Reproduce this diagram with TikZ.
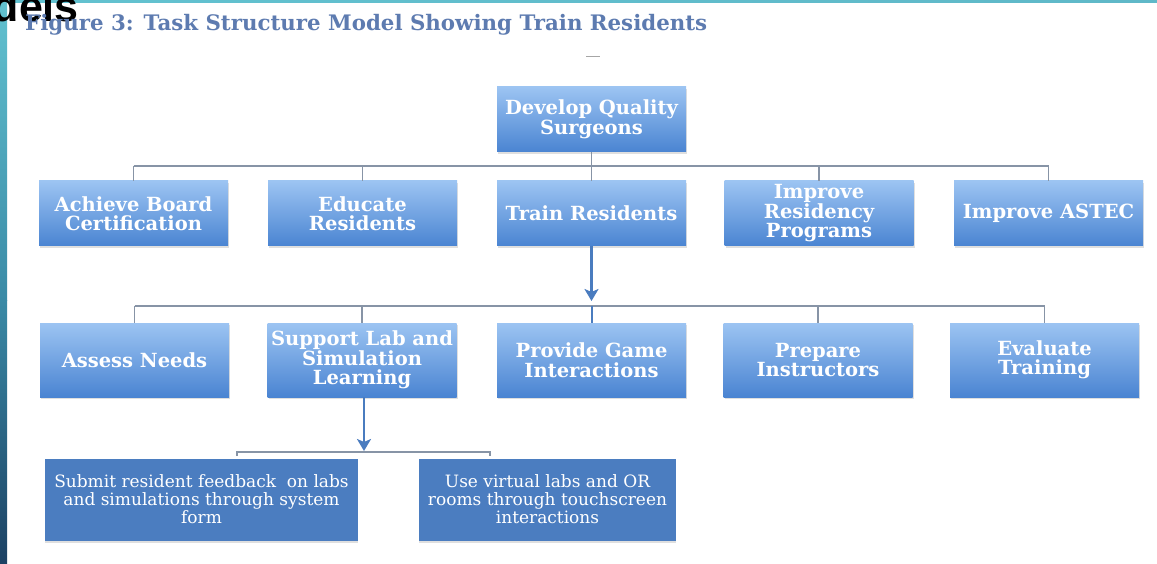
\documentclass[tikz,border=0pt]{standalone}
\usepackage{fontspec}
\usetikzlibrary{arrows.meta,shadows}
\newfontfamily\serifbx{DejaVu Serif}
\newfontfamily\sansbx{Liberation Sans}
\definecolor{boxtop}{HTML}{9CC4F2}
\definecolor{boxbot}{HTML}{4A84D2}
\definecolor{flatbox}{HTML}{4B7DC0}
\definecolor{barcol}{HTML}{8794A6}
\definecolor{arrcol}{HTML}{4A7CBF}
\definecolor{titlecol}{HTML}{5D7BB0}
\definecolor{stripetop}{HTML}{62C2D0}
\definecolor{striperight}{HTML}{5FB8C8}
\definecolor{stripemid}{HTML}{3A8AA6}
\definecolor{stripebot}{HTML}{1C4163}
\begin{document}
\begin{tikzpicture}[x=1pt,y=-1pt,
  box/.style={rectangle,minimum width=189pt,minimum height=65pt,inner sep=0pt,
    align=center,text=white,font=\serifbx\bfseries\fontsize{19.5}{19.5}\selectfont,
    top color=boxtop,bottom color=boxbot,
    drop shadow={opacity=0.25,shadow xshift=1pt,shadow yshift=-2pt}},
  tallbox/.style={box,minimum height=74pt},
  flat/.style={rectangle,minimum height=82pt,inner sep=0pt,align=center,text=white,
    font=\serifbx\fontsize{17}{18}\selectfont,fill=flatbox,
    drop shadow={opacity=0.25,shadow xshift=0pt,shadow yshift=-2pt}},
  bar/.style={draw=barcol,line width=1.8pt},
  arrline/.style={draw=arrcol,line width=2.8pt},
  arr/.style={arrline,-{Stealth[width=14pt,length=12pt,inset=3pt]}}]
\useasboundingbox (0,0) rectangle (1157,564);
\fill[white] (0,0) rectangle (1157,564);
% page decoration
\shade[left color=stripetop,right color=striperight] (0,0) rectangle (1157,3);
\shade[top color=stripetop,bottom color=stripemid] (0,0) rectangle (7,300);
\shade[top color=stripemid,bottom color=stripebot] (0,300) rectangle (7,564);
\node[anchor=base east,inner sep=0pt,font=\sansbx\bfseries\fontsize{43}{46}\selectfont] (hdr) at (79,22) {Models};
% title
\node[anchor=base west,inner sep=0pt,text=titlecol] (title) at (25,31)
  {\resizebox{682pt}{!}{\serifbx\bfseries Figure 3: Task Structure Model Showing Train Residents}};
\coordinate (dashL) at (586,57);
\coordinate (dashR) at (600,57);
\draw[gray!70,line width=1pt] (dashL) -- (dashR);
% level 0
\node[box] (top) at (591.5,119.5) {Develop Quality\\Surgeons};
% level 1
\node[box] (ach) at (133.5,213.5) {Achieve Board\\Certification};
\node[box] (edu) at (362.5,213.5) {Educate\\Residents};
\node[box] (train) at (591.5,213.5) {Train Residents};
\node[box] (impr) at (819,213.5) {Improve\\Residency\\Programs};
\node[box] (astec) at (1048.5,213.5) {Improve ASTEC};
% level 2
\node[tallbox] (assess) at (134.5,360) {Assess Needs};
\node[tallbox] (supp) at (362,360) {Support Lab and\\Simulation\\Learning};
\node[tallbox] (game) at (591.5,360) {Provide Game\\Interactions};
\node[tallbox] (prep) at (818,360) {Prepare\\Instructors};
\node[tallbox] (eval) at (1044.5,360) {Evaluate\\Training};
% level 3
\node[flat,minimum width=313pt] (submit) at (201.5,499.5) {Submit resident feedback\ \ on labs\\and simulations through\ system\\form};
\node[flat,minimum width=257pt] (use) at (547.5,499.5) {Use virtual labs and OR\\rooms through\ touchscreen\\interactions};
% connectors level 0 -> 1
\coordinate (b1L) at (133.5,166);
\coordinate (b1R) at (1048.5,166);
\draw[bar] (b1L) -- (b1R);
\draw[bar] (top.south) -- (train.north);
\foreach \n in {ach,edu,impr,astec} \draw[bar] (\n.north) -- (\n.north |- b1L);
% connectors level 1 -> 2
\coordinate (b2L) at (134.5,306);
\coordinate (b2R) at (1044.5,306);
\coordinate (tip2) at (591.5,301);
\draw[bar] (b2L) -- (b2R);
\foreach \n in {assess,supp,prep,eval} \draw[bar] (\n.north) -- (\n.north |- b2L);
\draw[arr] (train.south) -- (tip2);
\draw[arrline,line width=2pt] (game.north |- b2L) -- (game.north);
% connectors level 2 -> 3
\coordinate (b3L) at (237,452);
\coordinate (b3R) at (490,452);
\coordinate (tip3) at (364,451);
\draw[bar,line width=1.5pt] ([yshift=-4pt]b3L) -- (b3L) -- (b3R) -- ([yshift=-4pt]b3R);
\draw[arr] (supp.south -| tip3) -- (tip3);
\end{tikzpicture}
\end{document}
